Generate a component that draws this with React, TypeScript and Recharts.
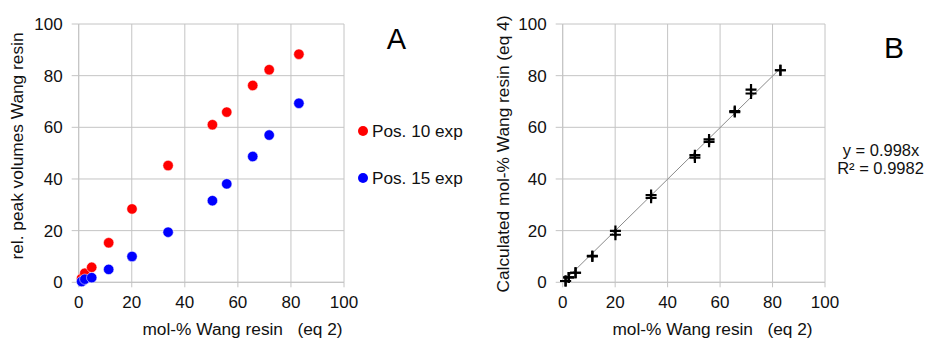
import {
  CartesianGrid,
  Legend,
  ReferenceLine,
  Scatter,
  ScatterChart,
  XAxis,
  YAxis,
} from 'recharts'

// mol-% Wang resin (eq 2), shared by both panels
const molPercent = [1.1, 2.3, 4.9, 11.3, 20.1, 33.7, 50.4, 55.8, 65.6, 71.8, 83.0]

// panel A: relative peak volumes
const pos10 = [1.5, 3.5, 5.8, 15.3, 28.4, 45.2, 61.0, 65.9, 76.2, 82.3, 88.3]
const pos15 = [0.3, 1.2, 1.8, 5.0, 10.0, 19.4, 31.6, 38.1, 48.7, 57.0, 69.3]

// panel B: calculated mol-% (eq 4), two estimates per sample
const calcFirst = [0.5, 1.9, 3.7, 10.2, 19.9, 33.8, 49.2, 55.3, 66.3, 74.6, 82.1]
const calcSecond = [0.5, 1.9, 3.7, 10.0, 18.4, 32.7, 48.3, 54.4, 65.9, 73.1, 82.1]

const TICKS = [0, 20, 40, 60, 80, 100]
const TREND_SLOPE = 0.998
const TREND_X = [1, 83]

const FONT = '"Liberation Sans", Arial, sans-serif'
const GRID = '#c4c4c4'
const TEXT = '#111111'

const toPoints = (ys: number[]) => molPercent.map((x, i) => ({ x, y: ys[i] }))

const dot = (color: string) => (p: any) => (
  <circle cx={p.cx} cy={p.cy} r={5.2} fill={color} stroke="#ffffff" strokeOpacity={0.5} strokeWidth={1} />
)

const plus = (p: any) => (
  <path d={`M${p.cx - 5.5},${p.cy}h11M${p.cx},${p.cy - 5.5}v11`} stroke="#000" strokeWidth={2.2} fill="none" />
)

const LEGEND = [
  { name: 'Pos. 10 exp', color: '#ff0000' },
  { name: 'Pos. 15 exp', color: '#0000ff' },
]

function LegendBox() {
  return (
    <div style={{ fontFamily: FONT, fontSize: 17.2, color: TEXT }}>
      {LEGEND.map((item, i) => (
        <div
          key={item.name}
          style={{ display: 'flex', alignItems: 'center', height: 20, marginTop: i === 0 ? 0 : 26.7 }}
        >
          <span
            style={{
              width: 10,
              height: 10,
              borderRadius: '50%',
              background: item.color,
              marginRight: 4,
              display: 'inline-block',
            }}
          />
          <span style={{ lineHeight: '20px', whiteSpace: 'nowrap' }}>{item.name}</span>
        </div>
      ))}
    </div>
  )
}

const xLabel = 'mol-% Wang resin\u00a0\u00a0\u00a0(eq 2)'

function axes(yTitle: string, yTitleX: number, yTitleY: number) {
  return [
    <CartesianGrid key="g" stroke={GRID} strokeWidth={1} />,
    <XAxis
      key="x"
      type="number"
      dataKey="x"
      domain={[0, 100]}
      ticks={TICKS}
      height={30}
      tickSize={5}
      tickMargin={9}
      stroke={GRID}
      tick={{ fill: TEXT, fontSize: 17 }}
      interval={0}
    />,
    <YAxis
      key="y"
      type="number"
      dataKey="y"
      domain={[0, 100]}
      ticks={TICKS}
      width={60}
      tickSize={7}
      tickMargin={9}
      stroke={GRID}
      tick={{ fill: TEXT, fontSize: 17 }}
      interval={0}
    />,
    <text
      key="yt"
      x={yTitleX}
      y={yTitleY}
      textAnchor="middle"
      transform={`rotate(-90, ${yTitleX}, ${yTitleY})`}
      fontSize={17.3}
      fill={TEXT}
    >
      {yTitle}
    </text>,
    <text key="xt" x={242.5} y={335} textAnchor="middle" fontSize={17.3} fill={TEXT}>
      {xLabel}
    </text>,
  ]
}

export default function App() {
  return (
    <div
      style={{
        position: 'absolute',
        left: 0,
        top: 0,
        width: 926,
        height: 340,
        background: '#fff',
        fontFamily: FONT,
      }}
    >
      <div style={{ position: 'absolute', left: 0, top: 0 }}>
        <ScatterChart width={470} height={340} margin={{ top: 24, right: 126, bottom: 27.7, left: 18.7 }}>
          {axes('rel. peak volumes Wang resin', 23, 146)}
          <Legend
            layout="vertical"
            align="center"
            verticalAlign="middle"
            wrapperStyle={{ left: 358, top: 121, width: 110 }}
            content={() => <LegendBox />}
          />
          <Scatter name="Pos. 10 exp" data={toPoints(pos10)} fill="#ff0000" shape={dot('#ff0000')} isAnimationActive={false} />
          <Scatter name="Pos. 15 exp" data={toPoints(pos15)} fill="#0000ff" shape={dot('#0000ff')} isAnimationActive={false} />
          <text x={396.3} y={49.3} textAnchor="middle" fontSize={29} fill="#000">
            A
          </text>
        </ScatterChart>
      </div>
      <div style={{ position: 'absolute', left: 470, top: 0 }}>
        <ScatterChart width={456} height={340} margin={{ top: 24, right: 101, bottom: 27.7, left: 32.7 }}>
          {axes('Calculated mol-% Wang resin (eq 4)', 39, 154)}
          <ReferenceLine
            segment={[
              { x: TREND_X[0], y: TREND_X[0] * TREND_SLOPE },
              { x: TREND_X[1], y: TREND_X[1] * TREND_SLOPE },
            ]}
            stroke="#8a8a8a"
            strokeWidth={1}
          />
          <Scatter data={toPoints(calcFirst)} fill="#000" shape={plus} isAnimationActive={false} />
          <Scatter data={toPoints(calcSecond)} fill="#000" shape={plus} isAnimationActive={false} />
          <text x={424} y={58.3} textAnchor="middle" fontSize={30} fill="#000">
            B
          </text>
          <text x={411} y={156} textAnchor="middle" fontSize={16.5} fill={TEXT}>
            y = 0.998x
          </text>
          <text x={410.5} y={174.3} textAnchor="middle" fontSize={16.5} fill={TEXT}>
            R² = 0.9982
          </text>
        </ScatterChart>
      </div>
    </div>
  )
}
